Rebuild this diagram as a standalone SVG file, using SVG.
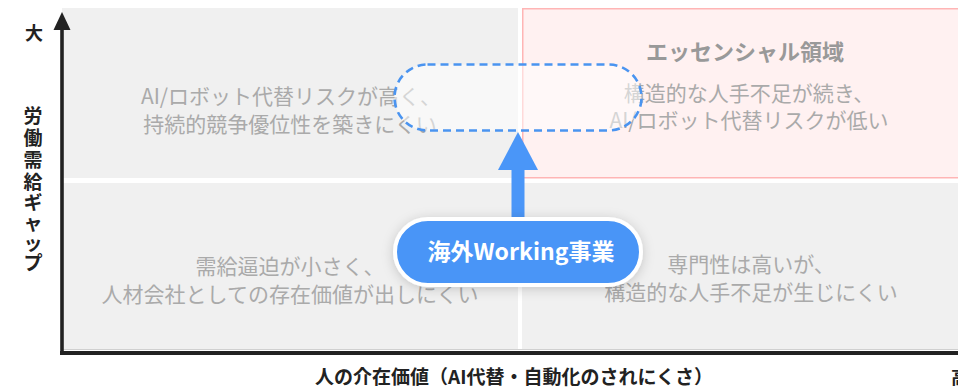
<svg xmlns="http://www.w3.org/2000/svg" width="958" height="390" viewBox="0 0 958 390">
<defs>
<style>
.q{fill:#f0f0f0}
.d{font-family:"Noto Sans CJK JP","Noto Sans",sans-serif;font-size:21px;fill:#aaaaaa;text-anchor:middle}
.ax{font-family:"Noto Sans CJK JP","Noto Sans",sans-serif;font-weight:700;fill:#222222}
.ttl{font-family:"Noto Sans CJK JP","Noto Sans",sans-serif;font-weight:700;font-size:22px;fill:#999999;text-anchor:middle}
</style>
<filter id="sh" x="-20%" y="-40%" width="140%" height="180%">
<feDropShadow dx="0" dy="2" stdDeviation="6" flood-color="#000" flood-opacity="0.18"/>
</filter>
</defs>
<rect width="958" height="390" fill="#ffffff"/>
<g id="quadrant-tl">
<rect class="q" x="62" y="8" width="456" height="170"/>
<text class="d" x="291" y="104">AI/ロボット代替リスクが高く、</text>
<text class="d" x="290" y="132">持続的競争優位性を築きにくい</text>
</g>
<g id="quadrant-tr">
<rect x="522.75" y="8.75" width="445" height="169" fill="#fff1f1" stroke="#ffb5b5" stroke-width="1.5"/>
<text class="ttl" x="745" y="60">エッセンシャル領域</text>
<text class="d" x="749" y="101">構造的な人手不足が続き、</text>
<text class="d" x="749" y="128">AI/ロボット代替リスクが低い</text>
</g>
<g id="quadrant-bl">
<rect class="q" x="62" y="183" width="456" height="167"/>
<text class="d" x="290" y="274">需給逼迫が小さく、</text>
<text class="d" x="290" y="302">人材会社としての存在価値が出しにくい</text>
</g>
<g id="quadrant-br">
<rect class="q" x="522" y="183" width="436" height="167"/>
<text class="d" x="751" y="272">専門性は高いが、</text>
<text class="d" x="751" y="300">構造的な人手不足が生じにくい</text>
</g>
<line x1="62" y1="349.5" x2="958" y2="349.5" stroke="#d0d0d0" stroke-width="1"/>
<g id="axes">
<line x1="62" y1="26" x2="62" y2="355" stroke="#222222" stroke-width="3.6"/>
<polygon points="62,12 70.5,30 53.5,30" fill="#222222"/>
<line x1="60" y1="353" x2="958" y2="353" stroke="#222222" stroke-width="4"/>
<text class="ax" x="34" y="40" font-size="18" text-anchor="middle">大</text>
<text class="ax" font-size="19" text-anchor="middle"><tspan x="33" y="123">労</tspan><tspan x="33" y="145">働</tspan><tspan x="33" y="167">需</tspan><tspan x="33" y="189">給</tspan><tspan x="33" y="210">ギ</tspan><tspan x="33" y="230">ャ</tspan><tspan x="33" y="250">ッ</tspan><tspan x="33" y="270">プ</tspan></text>
<text class="ax" x="514" y="384" font-size="19" text-anchor="middle">人の介在価値（AI代替・自動化のされにくさ）</text>
<text class="ax" x="951" y="384" font-size="18">高</text>
</g>
<g id="target">
<rect x="394.5" y="64.5" width="247" height="66" rx="33" fill="#ffffff" fill-opacity="0.5" stroke="#4a94f0" stroke-width="2.6" stroke-dasharray="8 5"/>
</g>
<g id="connectors">
<rect x="511.5" y="168" width="13" height="52" fill="#4a96f8"/>
<polygon points="518,132 538,170 498,170" fill="#4a96f8"/>
</g>
<g id="node-overseas">
<rect x="395" y="219" width="246" height="66" rx="33" fill="#4895f7" stroke="#ffffff" stroke-width="4" filter="url(#sh)"/>
<text x="521" y="260" font-family="'Noto Sans CJK JP','Noto Sans',sans-serif" font-weight="700" font-size="23" fill="#ffffff" text-anchor="middle">海外Working事業</text>
</g>
</svg>
